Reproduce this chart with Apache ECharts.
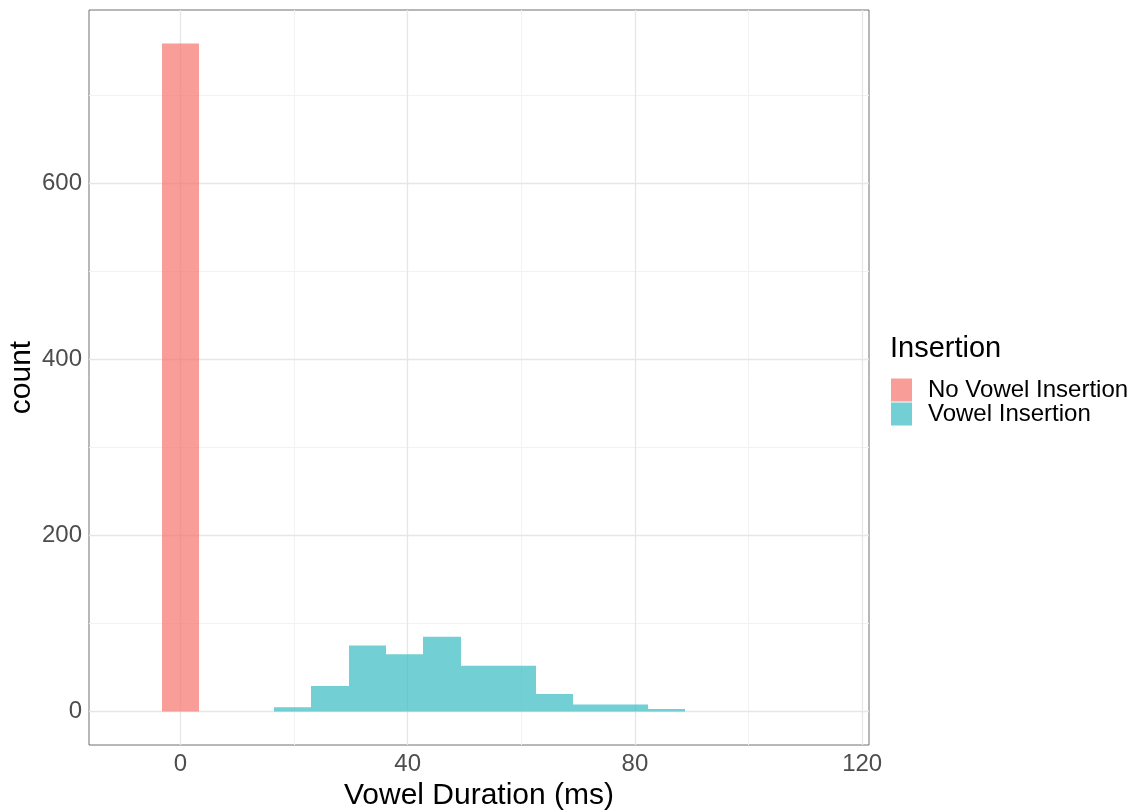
<!DOCTYPE html>
<html>
<head>
<meta charset="utf-8">
<title>Vowel Duration histogram</title>
<script src="https://cdn.jsdelivr.net/npm/echarts@6/dist/echarts.min.js"></script>
<style>
  html, body { margin: 0; padding: 0; background: #ffffff; }
  #chart { width: 1138px; height: 812px; }
</style>
</head>
<body>
<div id="chart"></div>
<script>
// Histogram bins (bin midpoints in ms) and counts for each group
const binWidth = 6.58;
const noInsertionMid = [0];
const noInsertionCount = [759];
const insertionMid = [19.74, 26.32, 32.90, 39.48, 46.06, 52.64, 59.22, 65.80, 72.38, 78.96, 85.54];
const insertionCount = [5, 29, 75, 65, 85, 52, 52, 20, 8, 8, 3];

// Axis ticks and grid positions
const xTicks = [0, 40, 80, 120];
const xMinor = [20, 60, 100];
const yTicks = [0, 200, 400, 600];
const yMinor = [100, 300, 500, 700];

const FONT = "'Liberation Sans', Arial, Helvetica, sans-serif";
const RED = 'rgba(246,116,108,0.7)';
const TEAL = 'rgba(59,189,194,0.72)';

function toPairs(mids, counts) {
  return mids.map((m, i) => [m, counts[i]]);
}

// Each histogram bin is a rectangle from (mid - w/2, 0) to (mid + w/2, count),
// snapped to whole pixels so neighbouring bins meet without seams
function renderBin(params, api) {
  const mid = api.value(0);
  const count = api.value(1);
  const p0 = api.coord([mid - binWidth / 2, 0]);
  const p1 = api.coord([mid + binWidth / 2, count]);
  const x0 = Math.round(p0[0]);
  const x1 = Math.round(p1[0]);
  return {
    type: 'rect',
    shape: { x: x0, y: p1[1], width: x1 - x0, height: p0[1] - p1[1] },
    style: api.style()
  };
}

const gridLines = []
  .concat(xMinor.map(v => ({ xAxis: v, lineStyle: { color: '#F2F2F2', width: 1, type: 'solid' } })))
  .concat(yMinor.map(v => ({ yAxis: v, lineStyle: { color: '#F2F2F2', width: 1, type: 'solid' } })))
  .concat(xTicks.map(v => ({ xAxis: v, lineStyle: { color: '#E6E6E6', width: 1.3, type: 'solid' } })))
  .concat(yTicks.map(v => ({ yAxis: v, lineStyle: { color: '#E6E6E6', width: 1.3, type: 'solid' } })));

const chart = echarts.init(document.getElementById('chart'), null, { renderer: 'canvas' });

chart.setOption({
  animation: false,
  backgroundColor: '#ffffff',
  textStyle: { fontFamily: FONT },
  title: {
    text: 'Insertion',
    left: 890,
    top: 334,
    padding: 0,
    textStyle: { fontFamily: FONT, fontSize: 29, fontWeight: 'normal', color: '#000000' }
  },
  legend: {
    orient: 'vertical',
    left: 891,
    top: 378,
    padding: 0,
    itemGap: 0,
    itemWidth: 21,
    itemHeight: 23,
    icon: 'rect',
    data: ['No Vowel Insertion', 'Vowel Insertion'],
    textStyle: { fontFamily: FONT, fontSize: 24, color: '#000000', padding: [0, 0, 0, 11] }
  },
  grid: {
    left: 89,
    right: 269,
    top: 10,
    bottom: 67,
    outerBoundsMode: 'none',
    containLabel: false,
    show: true,
    borderColor: '#707070',
    borderWidth: 1,
    backgroundColor: 'transparent'
  },
  xAxis: {
    type: 'value',
    min: -16.1,
    max: 121.2,
    name: 'Vowel Duration (ms)',
    nameLocation: 'middle',
    nameGap: 35,
    nameTextStyle: { fontFamily: FONT, fontSize: 30, color: '#000000' },
    axisLine: { show: false },
    axisTick: { show: true, customValues: xTicks, length: 4, lineStyle: { color: '#707070', width: 1 } },
    axisLabel: { customValues: xTicks, fontSize: 24, color: '#4D4D4D', margin: 7, fontFamily: FONT },
    splitLine: { show: false }
  },
  yAxis: {
    type: 'value',
    min: -37.95,
    max: 796.95,
    name: 'count',
    nameLocation: 'middle',
    nameGap: 52,
    nameMoveOverlap: false,
    nameTextStyle: { fontFamily: FONT, fontSize: 30, color: '#000000' },
    axisLine: { show: false },
    axisTick: { show: true, customValues: yTicks, length: 4, lineStyle: { color: '#707070', width: 1 } },
    axisLabel: { customValues: yTicks, fontSize: 24, color: '#4D4D4D', margin: 7, fontFamily: FONT },
    splitLine: { show: false }
  },
  series: [
    {
      name: 'grid',
      type: 'line',
      data: [],
      silent: true,
      z: 1,
      markLine: {
        silent: true,
        z: 1,
        symbol: ['none', 'none'],
        label: { show: false },
        emphasis: { disabled: true },
        animation: false,
        data: gridLines
      }
    },
    {
      name: 'No Vowel Insertion',
      type: 'custom',
      z: 3,
      renderItem: renderBin,
      itemStyle: { color: RED },
      encode: { x: 0, y: 1 },
      data: toPairs(noInsertionMid, noInsertionCount)
    },
    {
      name: 'Vowel Insertion',
      type: 'custom',
      z: 3,
      renderItem: renderBin,
      itemStyle: { color: TEAL },
      encode: { x: 0, y: 1 },
      data: toPairs(insertionMid, insertionCount)
    }
  ]
});
</script>
</body>
</html>
